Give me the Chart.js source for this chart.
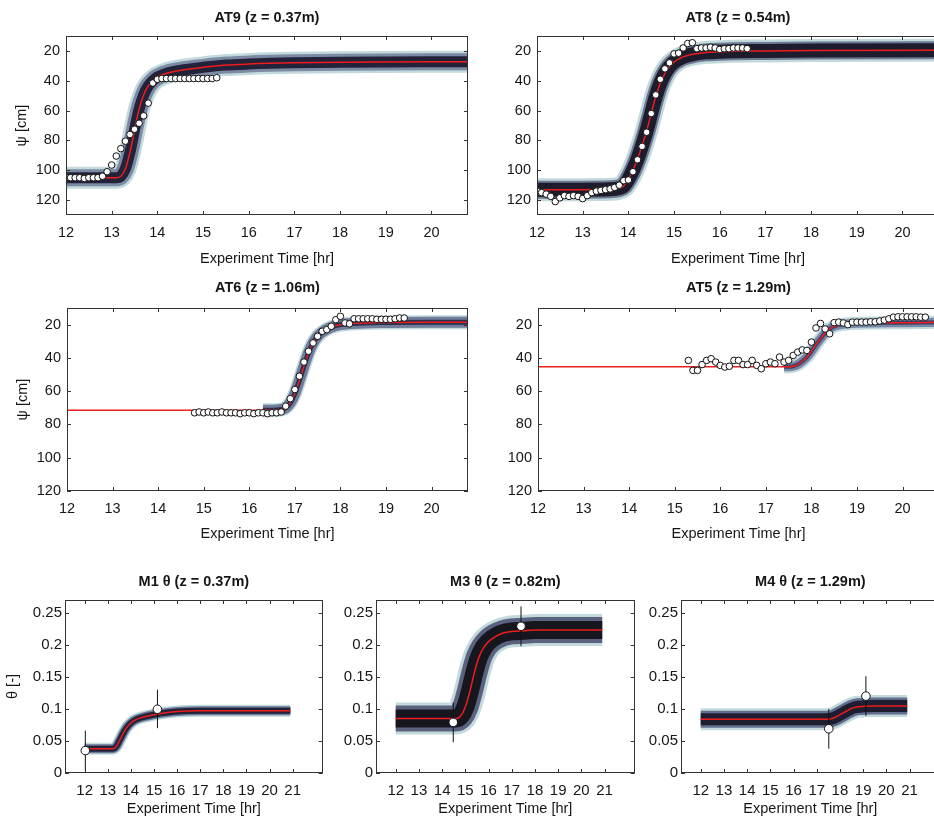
<!DOCTYPE html>
<html>
<head>
<meta charset="utf-8">
<script src="https://cdn.jsdelivr.net/npm/chart.js@4.4.1/dist/chart.umd.min.js"></script>
<style>
  html, body { margin: 0; padding: 0; background: #fff; overflow: hidden; }
  #page { position: relative; width: 934px; height: 828px; overflow: hidden; background: #fff; }
  #page canvas { position: absolute; }
</style>
</head>
<body>
<div id="page"></div>
<script>
// Axis ticks
const hourTicks = [12, 13, 14, 15, 16, 17, 18, 19, 20];
const hourTicksLong = [12, 13, 14, 15, 16, 17, 18, 19, 20, 21];
const psiTicks = [20, 40, 60, 80, 100, 120];
const thetaTicks = [0, 0.05, 0.1, 0.15, 0.2, 0.25];

// AT9 tensiometer (z = 0.37 m)
const at9ObsTime = [12.0, 12.1, 12.2, 12.3, 12.4, 12.5, 12.6, 12.7, 12.8, 12.9, 13.0, 13.1, 13.2, 13.3, 13.4, 13.5, 13.6,
  13.7, 13.8, 13.9, 14.0, 14.1, 14.2, 14.3, 14.4, 14.5, 14.6, 14.7, 14.8, 14.9, 15.0, 15.1, 15.2, 15.3];
const at9ObsPsi = [105, 105, 105, 105, 105.5, 105, 105, 105, 104, 101, 96.5, 90.5, 85.5, 80.5, 76, 72.5, 68.5,
  63.5, 55, 41.5, 39, 38.5, 38.5, 38.5, 38.5, 38.5, 38.5, 38.5, 38.5, 38.5, 38.5, 38.5, 38.5, 38];
const at9FitTime = [12.0, 12.9, 13.1, 13.2, 13.3, 13.4, 13.5, 13.6, 13.7, 13.8, 13.9, 14.0, 14.2, 14.5, 15.0, 15.5,
  16.0, 17.0, 18.0, 19.0, 20.0, 20.8];
const at9FitPsi = [105, 105, 105, 104, 99, 88, 73, 59, 49.5, 43.5, 40, 37.5, 35, 33, 31, 29.5,
  28.8, 28, 27.6, 27.4, 27.3, 27.3];

// AT8 tensiometer (z = 0.54 m)
const at8ObsTime = [12.0, 12.1, 12.2, 12.3, 12.4, 12.5, 12.6, 12.7, 12.8, 12.9, 13.0, 13.1, 13.2, 13.3, 13.4, 13.5,
  13.6, 13.7, 13.8, 13.9, 14.0, 14.1, 14.2, 14.3, 14.4, 14.5, 14.6, 14.7, 14.8, 14.9, 15.0, 15.1, 15.2, 15.3, 15.4,
  15.5, 15.6, 15.7, 15.8, 15.9, 16.0, 16.1, 16.2, 16.3, 16.4, 16.5, 16.6];
const at8ObsPsi = [114, 115, 116, 117.5, 121, 118.5, 117, 117.5, 117, 117.5, 119, 117, 115, 114, 113.5, 113,
  112.5, 111.5, 110, 107, 106.5, 101, 93, 84, 74.5, 62, 49.5, 39, 32, 28, 22, 21.5, 18, 15, 14.5,
  18.5, 18, 18, 17.5, 18, 19, 18.5, 18.5, 18, 18, 18, 18.5];
const at8FitTime = [12.0, 13.0, 13.6, 13.8, 13.9, 14.0, 14.1, 14.2, 14.3, 14.4, 14.5, 14.6, 14.7, 14.8, 14.9, 15.0,
  15.1, 15.2, 15.4, 15.7, 16.0, 17.0, 18.0, 20.8];
const at8FitPsi = [113, 113, 112.8, 112, 110.5, 106, 100, 92.5, 83.5, 73.5, 62, 50.5, 41.5, 35, 30.5, 27.5,
  25.5, 24, 22.3, 21, 20.5, 20, 19.7, 19.6];

// AT6 tensiometer (z = 1.06 m)
const at6ObsTime = [14.8, 14.9, 15.0, 15.1, 15.2, 15.3, 15.4, 15.5, 15.6, 15.7, 15.8, 15.9, 16.0, 16.1, 16.2, 16.3,
  16.4, 16.5, 16.6, 16.7, 16.8, 16.9, 17.0, 17.1, 17.2, 17.3, 17.4, 17.5, 17.6, 17.7, 17.8, 17.9, 18.0, 18.1, 18.2,
  18.3, 18.4, 18.5, 18.6, 18.7, 18.8, 18.9, 19.0, 19.1, 19.2, 19.3, 19.4];
const at6ObsPsi = [73, 72.5, 73, 72.5, 73, 73, 72.5, 73, 73, 73, 73.5, 73, 73, 73.5, 73, 73,
  73.5, 73, 73, 72.5, 69, 64.5, 59, 51, 42.5, 36, 31, 27, 24, 23, 21, 17, 15, 19, 19.5,
  16.5, 16.5, 16.5, 16.5, 16.5, 16.8, 16.8, 16.8, 16.8, 16.5, 16, 16];
const at6FitTime = [12.0, 16.5, 16.7, 16.8, 16.9, 17.0, 17.1, 17.2, 17.3, 17.4, 17.5, 17.6, 17.8, 18.0, 18.5, 19.0,
  20.0, 20.8];
const at6FitPsi = [71.5, 71.5, 71, 70, 67, 61.5, 53.5, 45, 37, 31, 27, 24.5, 21.5, 20, 19, 18.7,
  18.5, 18.5];
const at6BandStart = 16.3;

// AT5 tensiometer (z = 1.29 m)
const at5ObsTime = [15.3, 15.4, 15.5, 15.6, 15.7, 15.8, 15.9, 16.0, 16.1, 16.2, 16.3, 16.4, 16.5, 16.6, 16.7, 16.8,
  16.9, 17.0, 17.1, 17.2, 17.3, 17.4, 17.5, 17.6, 17.7, 17.8, 17.9, 18.0, 18.1, 18.2, 18.3, 18.4, 18.5, 18.6, 18.7,
  18.8, 18.9, 19.0, 19.1, 19.2, 19.3, 19.4, 19.5, 19.6, 19.7, 19.8, 19.9, 20.0, 20.1, 20.2, 20.3, 20.4, 20.5];
const at5ObsPsi = [41.5, 47.5, 47.5, 44, 41.5, 40.5, 42.5, 44.5, 45.5, 45, 41.5, 41.5, 44, 44, 41.5, 44.5,
  46.5, 43.5, 42.5, 43.5, 39.5, 42.5, 41.5, 38.5, 36.5, 35.2, 35.5, 30.5, 22, 19.3, 22.6, 25.5, 18.8, 18.5, 19,
  20, 18.5, 18.5, 18.5, 18.5, 18.3, 18.3, 17.8, 17.3, 16.5, 15.5, 15.3, 15.3, 15.3, 15.3, 15.3, 15.5, 15.5];
const at5FitTime = [12.0, 17.5, 17.6, 17.7, 17.8, 17.9, 18.0, 18.1, 18.2, 18.3, 18.4, 18.5, 18.7, 19.0, 20.0, 20.8];
const at5FitPsi = [45.3, 45.3, 45, 44, 42, 39.5, 36, 32, 28.5, 25, 22.5, 21, 19.8, 19.2, 18.8, 18.6];
const at5BandStart = 17.4;

// M1 moisture probe (z = 0.37 m)
const m1ObsTime = [12.03, 15.15];
const m1ObsTheta = [0.035, 0.0995];
const m1ErrLow = [0.004, 0.07];
const m1ErrHigh = [0.066, 0.13];
const m1FitTime = [12.0, 13.2, 13.3, 13.4, 13.5, 13.6, 13.7, 13.8, 14.0, 14.2, 14.5, 15.0, 15.5, 16.0, 17.0, 18.0, 20.9];
const m1FitTheta = [0.038, 0.038, 0.039, 0.043, 0.05, 0.057, 0.064, 0.07, 0.078, 0.083, 0.087, 0.091, 0.094,
  0.096, 0.097, 0.097, 0.097];

// M3 moisture probe (z = 0.82 m)
const m3ObsTime = [14.48, 17.4];
const m3ObsTheta = [0.079, 0.229];
const m3ErrLow = [0.048, 0.198];
const m3ErrHigh = [0.11, 0.26];
const m3FitTime = [12.0, 14.6, 14.8, 15.0, 15.2, 15.4, 15.6, 15.8, 16.0, 16.3, 16.6, 17.0, 17.5, 18.0, 20.9];
const m3FitTheta = [0.085, 0.085, 0.089, 0.103, 0.128, 0.158, 0.182, 0.196, 0.205, 0.213, 0.218, 0.221, 0.222,
  0.223, 0.223];

// M4 moisture probe (z = 1.29 m)
const m4ObsTime = [17.52, 19.12];
const m4ObsTheta = [0.069, 0.12];
const m4ErrLow = [0.038, 0.089];
const m4ErrHigh = [0.1, 0.151];
const m4FitTime = [12.0, 17.5, 17.6, 17.8, 18.0, 18.2, 18.4, 18.6, 18.8, 19.0, 19.5, 20.9];
const m4FitTheta = [0.084, 0.084, 0.0845, 0.087, 0.091, 0.095, 0.099, 0.102, 0.1035, 0.104, 0.1045, 0.1045];

const FONT = "'Liberation Sans', Arial, Helvetica, sans-serif";
const INK = '#161616';

const zip = (xs, ys) => xs.map((x, i) => ({ x, y: ys[i] }));

// vertical error bars as one broken line
const errorBars = (ts, lo, hi) => ts.flatMap((t, i) => [{ x: t, y: lo[i] }, { x: t, y: hi[i] }, { x: t, y: null }]);

// frame plus inward tick marks on all four sides
const boxPlugin = {
  id: 'box',
  afterDraw(chart) {
    const { ctx, chartArea: a, scales: { x, y } } = chart;
    const len = 4;
    ctx.save();
    ctx.strokeStyle = '#333';
    ctx.lineWidth = 1;
    ctx.beginPath();
    x.ticks.forEach(t => {
      const px = Math.round(x.getPixelForValue(t.value)) + 0.5;
      ctx.moveTo(px, a.bottom); ctx.lineTo(px, a.bottom - len);
      ctx.moveTo(px, a.top); ctx.lineTo(px, a.top + len);
    });
    y.ticks.forEach(t => {
      const py = Math.round(y.getPixelForValue(t.value)) + 0.5;
      ctx.moveTo(a.left, py); ctx.lineTo(a.left + len, py);
      ctx.moveTo(a.right, py); ctx.lineTo(a.right - len, py);
    });
    ctx.stroke();
    ctx.strokeRect(Math.round(a.left) + 0.5, Math.round(a.top) + 0.5,
      Math.round(a.width) - 1, Math.round(a.height) - 1);
    ctx.restore();
  }
};

function makePanel(p) {
  const [L, T, R, B] = p.plot;
  const canvas = document.createElement('canvas');
  const w = (R - L) + p.yw + p.rightPad;
  const h = (B - T) + p.th + p.xh;
  canvas.width = w;
  canvas.height = h;
  canvas.style.left = (L - p.yw) + 'px';
  canvas.style.top = (T - p.th) + 'px';
  canvas.style.width = w + 'px';
  canvas.style.height = h + 'px';
  document.getElementById('page').appendChild(canvas);

  const fit = zip(p.fitTime, p.fitValue);
  const band = fit.filter(pt => pt.x >= (p.bandStart ?? -Infinity));
  if (p.bandStart !== undefined && band[0].x > p.bandStart) {
    const i = fit.indexOf(band[0]);
    band.unshift({ x: p.bandStart, y: fit[i - 1].y });
  }

  const line = (data, color, width, order) => ({
    data, borderColor: color, borderWidth: width, pointRadius: 0, order,
    cubicInterpolationMode: 'monotone', borderCapStyle: 'butt', borderJoinStyle: 'round',
    fill: false, clip: 0
  });

  const datasets = [
    line(band, p.colors[0], p.widths[0], 6),
    line(band, p.colors[1], p.widths[1], 5),
    line(band, p.colors[2], p.widths[2], 4),
    line(fit, '#ee1c1c', 1.5, 3),
    {
      data: zip(p.obsTime, p.obsValue), showLine: false, order: 1,
      pointRadius: p.pointRadius, pointBackgroundColor: '#fff',
      pointBorderColor: '#111', pointBorderWidth: 1
    }
  ];
  if (p.errLow) {
    datasets.push({
      data: errorBars(p.obsTime, p.errLow, p.errHigh), borderColor: '#111', borderWidth: 1,
      pointRadius: 0, spanGaps: false, order: 2
    });
  }

  const titleSize = 14.5;
  const tickFont = { family: FONT, size: p.tickSize };
  const axisFont = { family: FONT, size: 14.5 };

  new Chart(canvas, {
    type: 'line',
    data: { datasets },
    plugins: [boxPlugin],
    options: {
      responsive: false,
      animation: false,
      events: [],
      layout: { padding: { left: 0, right: p.rightPad, top: 0, bottom: 0 } },
      plugins: {
        legend: { display: false },
        tooltip: { enabled: false },
        title: {
          display: true, text: p.title, fullSize: false, color: INK,
          font: { family: FONT, size: titleSize, weight: 'bold' },
          padding: { top: p.titlePad, bottom: p.th - p.titlePad - titleSize * 1.2 }
        }
      },
      scales: {
        x: {
          type: 'linear', min: p.xMin, max: p.xMax,
          grid: { display: false, drawTicks: false }, border: { display: false },
          afterBuildTicks: s => { s.ticks = p.xTicks.map(v => ({ value: v })); },
          afterFit: s => { s.height = p.xh; },
          ticks: { font: tickFont, color: INK, padding: p.xTickPad, maxRotation: 0, autoSkip: false, callback: v => String(v) },
          title: { display: true, text: 'Experiment Time [hr]', color: INK, font: axisFont, padding: { top: 0, bottom: 0 } }
        },
        y: {
          type: 'linear', min: p.yMin, max: p.yMax, reverse: p.reverse,
          grid: { display: false, drawTicks: false }, border: { display: false },
          afterBuildTicks: s => { s.ticks = p.yTicks.map(v => ({ value: v })); },
          afterFit: s => { s.width = p.yw; },
          ticks: { font: tickFont, color: INK, padding: p.yTickPad, autoSkip: false, callback: v => String(Math.round(v * 100) / 100) },
          title: { display: !!p.yTitle, text: p.yTitle || '', color: INK, font: axisFont, padding: { top: p.yTitlePad, bottom: 0 } }
        }
      }
    }
  });
}

const psiPanel = { xMin: 12, xMax: 20.8, xTicks: hourTicks, yTicks: psiTicks, reverse: true, yw: 60, rightPad: 4,
  tickSize: 14.5, pointRadius: 3.3, yTitlePad: 7, xTickPad: 9, yTickPad: 6 };
const thetaPanel = { xMin: 11.15, xMax: 22.3, xTicks: hourTicksLong, yTicks: thetaTicks, yMin: 0, yMax: 0.27,
  reverse: false, yw: 62, rightPad: 4, tickSize: 15, pointRadius: 4.3, yTitlePad: 1.5, th: 40, titlePad: 13, xh: 45,
  xTickPad: 9, yTickPad: 3 };

makePanel({ ...psiPanel, plot: [66, 36, 469, 215], th: 36, titlePad: 9.3, xh: 53, yMin: 10, yMax: 130,
  title: 'AT9 (z = 0.37m)', yTitle: 'ψ [cm]',
  obsTime: at9ObsTime, obsValue: at9ObsPsi, fitTime: at9FitTime, fitValue: at9FitPsi,
  widths: [22, 17, 11], colors: ['#c2dadb', '#7d8aa4', '#22223a'] });

makePanel({ ...psiPanel, plot: [537, 36, 940, 215], th: 36, titlePad: 9.3, xh: 53, yMin: 10, yMax: 130,
  title: 'AT8 (z = 0.54m)', yTitle: null,
  obsTime: at8ObsTime, obsValue: at8ObsPsi, fitTime: at8FitTime, fitValue: at8FitPsi,
  widths: [23, 18, 14], colors: ['#c2dadb', '#6e7a94', '#1c1c2c'] });

makePanel({ ...psiPanel, plot: [67, 308, 469, 491], th: 40, titlePad: 11.6, xh: 52, yMin: 10, yMax: 120,
  title: 'AT6 (z = 1.06m)', yTitle: 'ψ [cm]', bandStart: at6BandStart,
  obsTime: at6ObsTime, obsValue: at6ObsPsi, fitTime: at6FitTime, fitValue: at6FitPsi,
  widths: [14, 11, 5], colors: ['#c2dadb', '#6f7c9a', '#2c3050'] });

makePanel({ ...psiPanel, plot: [538, 308, 940, 491], th: 40, titlePad: 11.6, xh: 52, yMin: 10, yMax: 120,
  title: 'AT5 (z = 1.29m)', yTitle: null, bandStart: at5BandStart,
  obsTime: at5ObsTime, obsValue: at5ObsPsi, fitTime: at5FitTime, fitValue: at5FitPsi,
  widths: [13, 9, 4], colors: ['#c2dadb', '#7886a8', '#3a4266'] });

makePanel({ ...thetaPanel, plot: [65, 600, 324, 773], title: 'M1 θ (z = 0.37m)', yTitle: 'θ [-]',
  obsTime: m1ObsTime, obsValue: m1ObsTheta, errLow: m1ErrLow, errHigh: m1ErrHigh,
  fitTime: m1FitTime, fitValue: m1FitTheta,
  widths: [12, 9, 6], colors: ['#c2dadb', '#6a7898', '#22223a'] });

makePanel({ ...thetaPanel, plot: [376, 600, 636, 773], title: 'M3 θ (z = 0.82m)', yTitle: null,
  obsTime: m3ObsTime, obsValue: m3ObsTheta, errLow: m3ErrLow, errHigh: m3ErrHigh,
  fitTime: m3FitTime, fitValue: m3FitTheta,
  widths: [32, 26, 18], colors: ['#c2dadb', '#5a6280', '#16161f'] });

makePanel({ ...thetaPanel, plot: [681, 600, 941, 773], title: 'M4 θ (z = 1.29m)', yTitle: null,
  obsTime: m4ObsTime, obsValue: m4ObsTheta, errLow: m4ErrLow, errHigh: m4ErrHigh,
  fitTime: m4FitTime, fitValue: m4FitTheta,
  widths: [22, 17, 12], colors: ['#c2dadb', '#626c8c', '#1e1e30'] });
</script>
</body>
</html>
